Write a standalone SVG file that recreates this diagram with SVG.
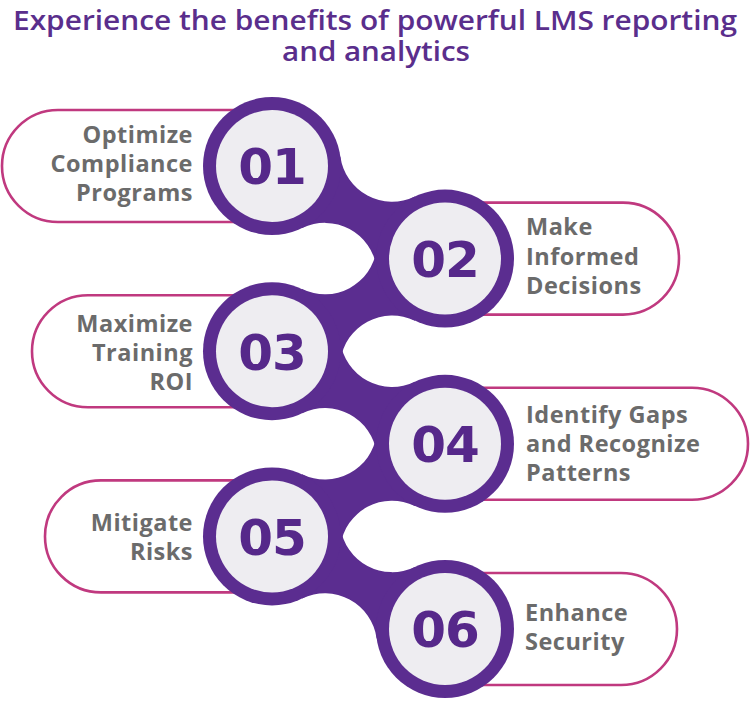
<svg xmlns="http://www.w3.org/2000/svg" xmlns:xlink="http://www.w3.org/1999/xlink" width="750" height="701" viewBox="0 0 750 701">
<style>
.title{font-family:"Open Sans","Liberation Sans",sans-serif;font-weight:600;font-size:27px;fill:#5a2e8c}
.pill{fill:#ffffff;stroke:#c0397f;stroke-width:2.6}
.ring{fill:#5b2d90}
.inner{fill:#eeedf1}
.num{font-family:"DejaVu Sans","Liberation Sans",sans-serif;font-weight:bold;font-size:50px;fill:#56288a;text-anchor:middle;letter-spacing:-1px}
.lbl{font-family:"Open Sans","Liberation Sans",sans-serif;font-weight:700;font-size:23.5px;fill:#6b6b6b;letter-spacing:0.5px}
.r{text-anchor:end}
.neck{fill:#5b2d90}
</style>
<defs>
<path id="neck" d="M 340.37 156.6 A 52.24 52.24 0 0 0 414.91 196.5 L 445 258.6 L 376.63 268.0 A 52.24 52.24 0 0 0 302.09 228.1 L 272 166 Z"/>
</defs>
<rect width="750" height="701" fill="#ffffff"/>
<g id="title">
<text class="title" x="375" y="30" text-anchor="middle" textLength="724" lengthAdjust="spacingAndGlyphs">Experience the benefits of powerful LMS reporting</text>
<text class="title" x="376" y="61" text-anchor="middle" textLength="188" lengthAdjust="spacingAndGlyphs">and analytics</text>
</g>
<g id="pills">
<path class="pill" d="M 272 110 H 58 A 56 56 0 0 0 58 222 H 272 Z"/>
<path class="pill" d="M 445 202.6 H 623 A 56 56 0 0 1 623 314.6 H 445 Z"/>
<path class="pill" d="M 272 295.2 H 88 A 56 56 0 0 0 88 407.2 H 272 Z"/>
<path class="pill" d="M 445 387.8 H 692 A 56 56 0 0 1 692 499.8 H 445 Z"/>
<path class="pill" d="M 272 480.4 H 101 A 56 56 0 0 0 101 592.4 H 272 Z"/>
<path class="pill" d="M 445 573 H 621 A 56 56 0 0 1 621 685 H 445 Z"/>
</g>
<g id="connectors" class="neck">
<use xlink:href="#neck" href="#neck"/>
<use xlink:href="#neck" href="#neck" transform="translate(717 92.6) scale(-1 1)"/>
<use xlink:href="#neck" href="#neck" transform="translate(0 185.2)"/>
<use xlink:href="#neck" href="#neck" transform="translate(717 277.8) scale(-1 1)"/>
<use xlink:href="#neck" href="#neck" transform="translate(0 370.4)"/>
</g>
<g id="node1">
<circle class="ring" cx="272" cy="166" r="69"/>
<circle class="inner" cx="272" cy="166" r="56"/>
<text class="num" x="272" y="184">01</text>
<text class="lbl r" x="193" y="143">Optimize</text>
<text class="lbl r" x="193" y="172">Compliance</text>
<text class="lbl r" x="193" y="201">Programs</text>
</g>
<g id="node2">
<circle class="ring" cx="445" cy="258.6" r="69"/>
<circle class="inner" cx="445" cy="258.6" r="56"/>
<text class="num" x="445" y="277">02</text>
<text class="lbl" x="526" y="235">Make</text>
<text class="lbl" x="526" y="264.5">Informed</text>
<text class="lbl" x="526" y="294">Decisions</text>
</g>
<g id="node3">
<circle class="ring" cx="272" cy="351.2" r="69"/>
<circle class="inner" cx="272" cy="351.2" r="56"/>
<text class="num" x="272" y="369.5">03</text>
<text class="lbl r" x="193" y="332">Maximize</text>
<text class="lbl r" x="193" y="361">Training</text>
<text class="lbl r" x="193" y="390">ROI</text>
</g>
<g id="node4">
<circle class="ring" cx="445" cy="443.8" r="69"/>
<circle class="inner" cx="445" cy="443.8" r="56"/>
<text class="num" x="445" y="462">04</text>
<text class="lbl" x="526" y="423">Identify Gaps</text>
<text class="lbl" x="526" y="452">and Recognize</text>
<text class="lbl" x="526" y="481">Patterns</text>
</g>
<g id="node5">
<circle class="ring" cx="272" cy="536.4" r="69"/>
<circle class="inner" cx="272" cy="536.4" r="56"/>
<text class="num" x="272" y="554.5">05</text>
<text class="lbl r" x="193" y="531">Mitigate</text>
<text class="lbl r" x="193" y="560">Risks</text>
</g>
<g id="node6">
<circle class="ring" cx="445" cy="629" r="69"/>
<circle class="inner" cx="445" cy="629" r="56"/>
<text class="num" x="445" y="647">06</text>
<text class="lbl" x="525" y="621">Enhance</text>
<text class="lbl" x="525" y="650">Security</text>
</g>
</svg>
